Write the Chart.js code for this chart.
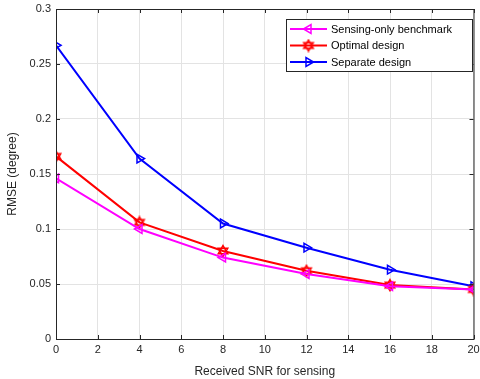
<!DOCTYPE html>
<html>
<head>
<meta charset="utf-8">
<script src="https://cdn.jsdelivr.net/npm/chart.js@4.4.1/dist/chart.umd.min.js"></script>
<style>
  html, body { margin: 0; padding: 0; background: #fff; }
  #wrap { width: 480px; height: 379px; }
</style>
</head>
<body>
<div id="wrap"><canvas id="c" width="480" height="379"></canvas></div>
<script>
// SNR values (dB) on the x axis
const snr = [0, 4, 8, 12, 16, 20];
// RMSE (degree) per design
const sensingOnly = [0.146, 0.100, 0.074, 0.059, 0.048, 0.045];
const optimal     = [0.166, 0.106, 0.080, 0.062, 0.049, 0.045];
const separate    = [0.267, 0.164, 0.105, 0.083, 0.063, 0.048];
const seriesNames = ['Sensing-only benchmark', 'Optimal design', 'Separate design'];
const xTicks = [0, 2, 4, 6, 8, 10, 12, 14, 16, 18, 20];
const yTicks = [0, 0.05, 0.1, 0.15, 0.2, 0.25, 0.3];

const FONT = '"Liberation Sans", Arial, Helvetica, sans-serif';
const AXIS = '#262626';

// six-pointed star marker drawn as an outline
function hexagram(color) {
  const s = 14, c = document.createElement('canvas');
  c.width = s; c.height = s;
  const g = c.getContext('2d');
  g.strokeStyle = color; g.lineWidth = 1.5;
  const r = 5.5, cx = s / 2, cy = s / 2;
  for (const off of [-Math.PI / 2, Math.PI / 2]) {
    g.beginPath();
    for (let i = 0; i < 3; i++) {
      const a = off + i * 2 * Math.PI / 3;
      const px = cx + r * Math.cos(a), py = cy + r * Math.sin(a);
      i ? g.lineTo(px, py) : g.moveTo(px, py);
    }
    g.closePath(); g.stroke();
  }
  return c;
}
const star = hexagram('#ff0000');

const ds = [
  { label: seriesNames[0], data: sensingOnly, borderColor: '#ff00ff', pointStyle: 'triangle', rotation: -90 },
  { label: seriesNames[1], data: optimal, borderColor: '#ff0000', pointStyle: star, rotation: 0 },
  { label: seriesNames[2], data: separate, borderColor: '#0000ff', pointStyle: 'triangle', rotation: 90 },
].map(d => Object.assign({
  backgroundColor: 'transparent',
  pointBackgroundColor: 'transparent',
  pointBorderColor: d.borderColor,
  pointRadius: 5,
  pointBorderWidth: 1.5,
  pointRotation: d.rotation,
  borderWidth: 2,
  tension: 0,
}, d, { data: d.data.map((v, i) => ({ x: snr[i], y: v })) }));

// box, inward tick marks and the legend inside the plot
const boxPlugin = {
  id: 'box',
  afterDraw(chart) {
    const { ctx, chartArea: a, scales: { x, y } } = chart;
    ctx.save();
    ctx.strokeStyle = AXIS; ctx.lineWidth = 1;
    ctx.strokeRect(a.left + 0.5, a.top + 0.5, a.right - a.left, a.bottom - a.top);
    ctx.beginPath();
    const L = 4;
    xTicks.forEach(t => {
      const px = Math.round(x.getPixelForValue(t)) + 0.5;
      ctx.moveTo(px, a.bottom); ctx.lineTo(px, a.bottom - L);
      ctx.moveTo(px, a.top); ctx.lineTo(px, a.top + L);
    });
    yTicks.forEach(t => {
      const py = Math.round(y.getPixelForValue(t)) + 0.5;
      ctx.moveTo(a.left, py); ctx.lineTo(a.left + L, py);
      ctx.moveTo(a.right, py); ctx.lineTo(a.right - L, py);
    });
    ctx.stroke();

    // legend
    const bx = 286.5, by = 19.5, bw = 186, bh = 52;
    ctx.fillStyle = '#fff';
    ctx.fillRect(bx, by, bw, bh);
    ctx.strokeStyle = AXIS; ctx.lineWidth = 1;
    ctx.strokeRect(bx, by, bw, bh);
    ctx.font = '11px ' + FONT;
    ctx.textBaseline = 'middle';
    const rows = [29, 45.5, 62];
    chart.data.datasets.forEach((d, i) => {
      const ry = rows[i];
      ctx.strokeStyle = d.borderColor; ctx.lineWidth = 2;
      ctx.beginPath(); ctx.moveTo(290, ry); ctx.lineTo(327, ry); ctx.stroke();
      ctx.lineWidth = 1.5;
      ctx.fillStyle = 'rgba(0,0,0,0)';
      Chart.helpers.drawPoint(ctx, { pointStyle: d.pointStyle, rotation: d.pointRotation, radius: 5, borderWidth: 1.5 }, 308.5, ry);
      ctx.fillStyle = '#000';
      ctx.fillText(d.label, 331, ry + 0.5);
    });
    ctx.restore();
  }
};

new Chart(document.getElementById('c'), {
  type: 'line',
  data: { datasets: ds },
  plugins: [boxPlugin],
  options: {
    responsive: false,
    animation: false,
    devicePixelRatio: 1,
    layout: { padding: { top: 9, right: 6, left: 0, bottom: 0 } },
    plugins: { legend: { display: false }, tooltip: { enabled: false } },
    scales: {
      x: {
        type: 'linear', min: 0, max: 20,
        afterBuildTicks: s => { s.ticks = xTicks.map(v => ({ value: v })); },
        afterFit: s => { s.height = 40; s.paddingLeft = 0; s.paddingRight = 0; },
        grid: { color: '#e3e3e3', drawTicks: false, lineWidth: 1 },
        border: { color: AXIS },
        ticks: { color: AXIS, font: { family: FONT, size: 11 }, padding: 4, maxRotation: 0 },
        title: { display: true, text: 'Received SNR for sensing', color: AXIS, font: { family: FONT, size: 12 }, padding: { top: 0, bottom: 0 } }
      },
      y: {
        type: 'linear', min: 0, max: 0.3,
        afterBuildTicks: s => { s.ticks = yTicks.map(v => ({ value: v })); },
        afterFit: s => { s.width = 56; s.paddingTop = 0; s.paddingBottom = 0; },
        grid: { color: '#e3e3e3', drawTicks: false, lineWidth: 1 },
        border: { color: AXIS },
        ticks: { color: AXIS, font: { family: FONT, size: 11 }, padding: 5, callback: v => String(+v.toFixed(2)) },
        title: { display: true, text: 'RMSE (degree)', color: AXIS, font: { family: FONT, size: 12 }, padding: { top: 5, bottom: 0 } }
      }
    }
  }
});
</script>
</body>
</html>
